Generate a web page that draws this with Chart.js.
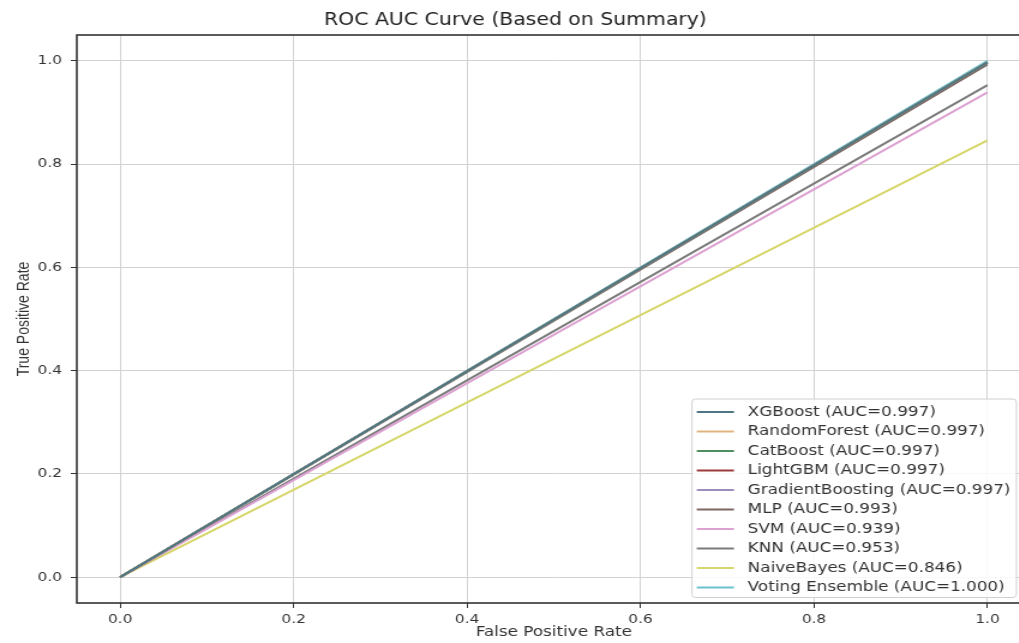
<!DOCTYPE html>
<html>
<head>
<meta charset="utf-8">
<title>ROC AUC Curve</title>
<script src="https://cdn.jsdelivr.net/npm/chart.js@4.4.1/dist/chart.umd.min.js"></script>
<style>
  html, body { margin: 0; padding: 0; background: #fff; overflow: hidden; }
  /* the reference picture is stretched sideways, so the chart is too */
  #wrap { width: 921px; height: 643px; transform: scaleX(1.2); transform-origin: 0 0; }
</style>
</head>
<body>
<div id="wrap"><canvas id="rocChart" width="921" height="643"></canvas></div>
<script>
// Models and their AUC (from the summary table)
const models = ['XGBoost', 'RandomForest', 'CatBoost', 'LightGBM', 'GradientBoosting',
                'MLP', 'SVM', 'KNN', 'NaiveBayes', 'Voting Ensemble'];
const aucs = [0.997, 0.997, 0.997, 0.997, 0.997, 0.993, 0.939, 0.953, 0.846, 1.000];

// Each curve runs from (0,0) to (1, AUC)
const fpr = [0.0, 1.0];
const tprStart = 0.0;

const xTicks = [0.0, 0.2, 0.4, 0.6, 0.8, 1.0];
const yTicks = [0.0, 0.2, 0.4, 0.6, 0.8, 1.0];

const colors = ['#4d7583', '#e0b480', '#4f8f5f', '#9b3b3b', '#9d8cbc',
                '#7d6660', '#dca2d2', '#7b7b7b', '#d6d66a', '#6cc0cf'];

const datasets = models.map((name, i) => ({
    label: name + ' (AUC=' + aucs[i].toFixed(3) + ')',
    data: [{ x: fpr[0], y: tprStart }, { x: fpr[1], y: aucs[i] }],
    borderColor: colors[i],
    backgroundColor: colors[i],
    borderWidth: 2,
    pointRadius: 0,
    fill: false,
    tension: 0
}));

// dark frame round the plot area
const frame = {
    id: 'frame',
    afterDatasetsDraw(chart) {
        const { ctx, chartArea: a } = chart;
        ctx.save();
        ctx.strokeStyle = '#333';
        ctx.lineWidth = 1.6;
        ctx.strokeRect(a.left, a.top, a.right - a.left, a.bottom - a.top);
        ctx.restore();
    }
};

// legend in the lower right corner, inside the plot
const innerLegend = {
    id: 'innerLegend',
    afterDraw(chart) {
        const { ctx, chartArea: a } = chart;
        const ds = chart.data.datasets;
        ctx.save();
        ctx.font = '14px "DejaVu Sans"';
        const maxW = Math.max(...ds.map(d => ctx.measureText(d.label).width));
        const rowH = 19.5;
        const boxW = 4 + 31 + 11.5 + maxW + 5;
        const boxH = 13 + rowH * (ds.length - 1) + 10;
        const right = a.right - 12;
        const bottom = a.bottom - 5.5;
        const left = right - boxW;
        const top = bottom - boxH;

        ctx.beginPath();
        ctx.roundRect(left, top, boxW, boxH, 3);
        ctx.fillStyle = 'rgba(255,255,255,0.85)';
        ctx.fill();
        ctx.strokeStyle = '#d0d0d0';
        ctx.lineWidth = 1;
        ctx.stroke();

        ds.forEach((d, i) => {
            const y = top + 13 + i * rowH;
            ctx.beginPath();
            ctx.strokeStyle = d.borderColor;
            ctx.lineWidth = 2;
            ctx.moveTo(left + 4, y);
            ctx.lineTo(left + 35, y);
            ctx.stroke();
            ctx.fillStyle = '#333';
            ctx.textBaseline = 'middle';
            ctx.textAlign = 'left';
            ctx.fillText(d.label, left + 46.5, y);
        });
        ctx.restore();
    }
};

const tickFont = { family: 'DejaVu Sans', size: 12.8 };

new Chart(document.getElementById('rocChart').getContext('2d'), {
    type: 'line',
    data: { datasets: datasets },
    plugins: [frame, innerLegend],
    options: {
        responsive: false,
        animation: false,
        layout: { padding: { left: 0, right: 62, top: 0, bottom: 0 } },
        plugins: {
            legend: { display: false },
            tooltip: { enabled: false },
            title: {
                display: true,
                text: 'ROC AUC Curve (Based on Summary)',
                color: '#222',
                font: { family: 'DejaVu Sans', size: 17, weight: 'normal' },
                padding: { top: 10, bottom: 4.6 }
            }
        },
        scales: {
            x: {
                type: 'linear',
                min: -0.05,
                max: 1.05,
                afterBuildTicks: s => { s.ticks = xTicks.map(v => ({ value: v })); },
                afterFit: s => { s.height = 40; },
                ticks: {
                    callback: v => v.toFixed(1),
                    color: '#333',
                    font: tickFont,
                    padding: 3.5,
                    maxRotation: 0,
                    autoSkip: false
                },
                grid: { color: '#d2d2d2', lineWidth: 1, tickColor: '#333', tickLength: 5 },
                border: { display: false },
                title: {
                    display: true,
                    text: 'False Positive Rate',
                    color: '#333',
                    font: { family: 'DejaVu Sans', size: 14 },
                    padding: { top: 0, bottom: 2 }
                }
            },
            y: {
                type: 'linear',
                min: -0.05,
                max: 1.05,
                afterBuildTicks: s => { s.ticks = yTicks.map(v => ({ value: v })); },
                afterFit: s => { s.width = 64; },
                ticks: {
                    callback: v => v.toFixed(1),
                    color: '#333',
                    font: tickFont,
                    padding: 7.3,
                    autoSkip: false
                },
                grid: { color: '#d2d2d2', lineWidth: 1, tickColor: '#333', tickLength: 5 },
                border: { display: false },
                title: {
                    display: true,
                    text: 'True Positive Rate',
                    color: '#333',
                    font: { family: 'Liberation Sans', size: 14 },
                    padding: { top: 12, bottom: 0 }
                }
            }
        }
    }
});
</script>
</body>
</html>
